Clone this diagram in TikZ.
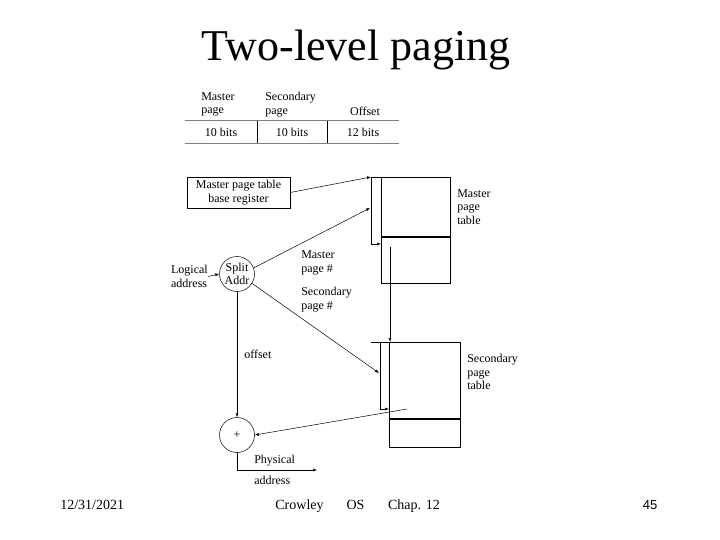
\documentclass[tikz,border=0pt]{standalone}
\usepackage{fontspec}
\setmainfont{Liberation Serif}
\newfontfamily\numfont{Liberation Sans}
\usetikzlibrary{arrows.meta,positioning,calc}

\tikzset{
  lbl/.style={font=\fontsize{12}{13.5}\selectfont, align=left, inner sep=0pt},
  cell/.style={minimum height=22pt, inner sep=0pt, font=\fontsize{12}{13.5}\selectfont},
  tablebox/.style={draw, inner sep=0pt, anchor=north west},
  arr/.style={-{Latex[length=4pt,width=3pt]}, line width=0.5pt},
  unit/.style={draw, circle, minimum size=35pt, inner sep=0pt, align=center,
    font=\fontsize{12}{13}\selectfont},
  foot/.style={font=\fontsize{14}{16}\selectfont, inner sep=0pt, anchor=base},
}

\begin{document}
\begin{tikzpicture}[x=1pt,y=-1pt, line width=0.5pt]
    \useasboundingbox (0,0) rectangle (720,540);

    % Title
    \node[font=\fontsize{44}{50}\selectfont, anchor=base] (title) at (356,61) {Two-level paging};

    % Address fields
    \node[lbl, anchor=west] (mfield) at (201,104.5) {Master\\page};
    \node[lbl, anchor=west] (sfield) at (265,104.5) {Secondary\\page};
    \node[lbl] (ofield) at (365,111) {Offset};
    \node[cell, minimum width=72pt] (mbits) at (221,132) {10 bits};
    \node[cell, minimum width=70pt] (sbits) at (292,132) {10 bits};
    \node[cell, minimum width=72pt] (obits) at (363,132) {12 bits};
    \draw[line width=1.2pt, gray] (mbits.north west) -- (obits.north east);
    \draw[line width=1.2pt, gray] (mbits.south west) -- (obits.south east);
    \draw (mbits.north east) -- (mbits.south east);
    \draw (sbits.north east) -- (sbits.south east);

    % Base register
    \node[draw, lbl, align=center, minimum width=103pt, minimum height=31pt] (basereg) at (238.5,192.5)
        {Master page table\\base register};

    % Master page table
    \node[tablebox, minimum width=69pt, minimum height=59pt] (mtop) at (381,177) {};
    \node[tablebox, minimum width=69pt, minimum height=46pt] (mbot) at (mtop.south west) {};
    \node[lbl, anchor=west] (mlabel) at (457,207) {Master\\page\\table};
    \coordinate (mrail) at (371,177);
    \coordinate (mhit) at (381,244);
    \coordinate (mentry) at (390,247);
    \draw (mrail) -- (mtop.north west);
    \draw[arr] (mrail) |- (mhit);

    % Secondary page table
    \node[tablebox, minimum width=71pt, minimum height=76pt] (stop) at (389,342) {};
    \node[tablebox, minimum width=71pt, minimum height=28pt] (sbot) at (stop.south west) {};
    \node[lbl, anchor=west] (slabel) at (467,372) {Secondary\\page\\table};
    \coordinate (srail) at (371,342);
    \coordinate (scol) at (380,342);
    \coordinate (shit) at (389,409);
    \coordinate (sentry) at (407,409);
    \draw (srail) -- (stop.north west);
    \draw[arr] (scol) |- (shit);
    \draw[arr] (mentry) -- (mentry |- stop.north);

    % Split
    \node[unit] (split) at (237,274) {Split\\Addr};
    \node[lbl, anchor=east] (logical) at (208,276.5) {Logical\\address};
    \draw[arr] (logical.east) -- (split.west);
    \coordinate (mpoint) at (370,208);
    \coordinate (spoint) at (379,373);
    \draw[arr] (basereg.east) -- (mrail);
    \draw[arr] (split.20) -- (mpoint);
    \draw[arr] (split.-32) -- (spoint);
    \node[lbl, anchor=west] (mpage) at (301,263) {Master\\page \#};
    \node[lbl, anchor=west] (spage) at (301,299.5) {Secondary\\page \#};

    % Adder
    \node[unit] (plus) at (237,435) {+};
    \draw[arr] (split.south) -- (plus.north) node[lbl, midway, right=7pt] (offset) {offset};
    \draw[arr] (sentry) -- (plus.east);
    \coordinate (pend) at (317,470);
    \draw[arr] (plus.south) |- (pend);
    \node[lbl, anchor=west] (phys) at (254,461) {Physical};
    \node[lbl, anchor=west] (paddr) at (254,480) {address};

    % Footer
    \node[foot, anchor=base west] (date) at (60,509) {12/31/2021};
    \node[foot] (author) at (299.5,509) {Crowley};
    \node[foot] (course) at (355.5,509) {OS};
    \node[foot] (chap) at (414,509) {Chap. 12};
    \node[foot, font=\numfont\fontsize{13}{15}\selectfont] (pageno) at (650,509) {45};
\end{tikzpicture}
\end{document}
